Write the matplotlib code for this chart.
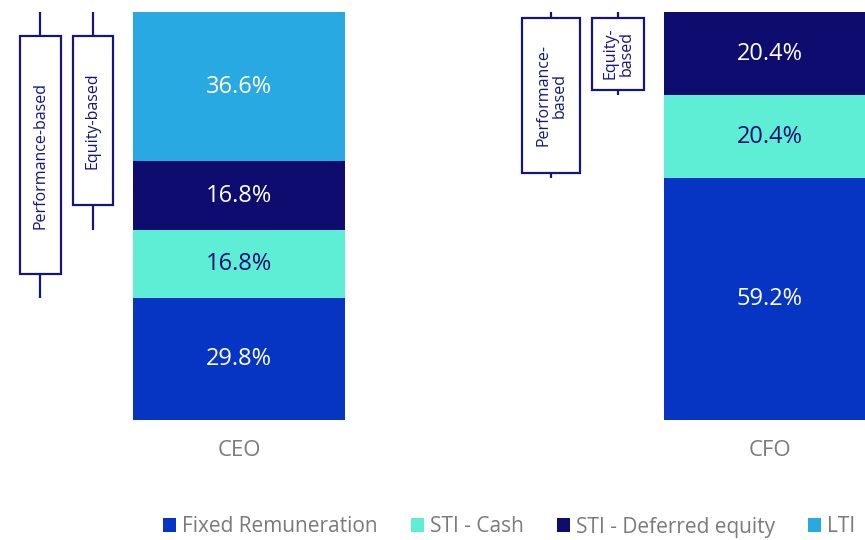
import matplotlib
matplotlib.use("Agg")
import matplotlib.pyplot as plt
from matplotlib.patches import Rectangle, Patch

plt.rcParams['font.family'] = ['Open Sans', 'DejaVu Sans']

categories = ["CEO", "CFO"]
components = ["Fixed Remuneration", "STI - Cash", "STI - Deferred equity", "LTI"]
fixed = [29.8, 59.2]
sti_cash = [16.8, 20.4]
sti_deferred = [16.8, 20.4]
lti = [36.6, 0.0]
series = [fixed, sti_cash, sti_deferred, lti]
colors = ["#0535C2", "#5EEED6", "#0E0C6E", "#29A9E1"]
label_colors = ["white", "#0E0C6E", "white", "white"]

perf_labels = ["Performance-based", "Performance-\nbased"]
equity_labels = ["Equity-based", "Equity-\nbased"]

NAVY = "#16157A"
GRAY = "#7A7A7A"

fig = plt.figure(figsize=(8.65, 5.4), dpi=100)
ax = fig.add_axes([0, 120/540, 1, 408/540])
x = list(range(len(categories)))
width = 0.4
bottom = [0.0] * len(categories)
for vals, col, lc in zip(series, colors, label_colors):
    ax.bar(x, vals, width=width, bottom=bottom, color=col, edgecolor="none")
    for i, v in enumerate(vals):
        if v > 0:
            ax.text(x[i], bottom[i] + v / 2, f"{v:.1f}%", ha="center", va="center",
                    color=lc, fontsize=17)
    bottom = [b + v for b, v in zip(bottom, vals)]

ax.set_xlim(-239/531, (865-239)/531)
ax.set_ylim(0, 100)
ax.axis("off")

# bracket annotations
perf_offsets = [-0.374, -0.412]
perf_widths = [0.077, 0.109]
eq_offsets = [-0.275, -0.286]
eq_widths = [0.075, 0.098]
insets = [6.0, 1.4]
for i in range(len(categories)):
    top = 100.0
    perf_low = fixed[i]
    eq_low = fixed[i] + sti_cash[i]
    for off, w, low, lab in [(perf_offsets[i], perf_widths[i], perf_low, perf_labels[i]),
                             (eq_offsets[i], eq_widths[i], eq_low, equity_labels[i])]:
        cx = x[i] + off
        ax.plot([cx, cx], [low, top], color=NAVY, lw=1.6, zorder=3, solid_capstyle="butt")
        ins = insets[i]
        ax.add_patch(Rectangle((cx - w/2, low + ins), w, (top - low) - 2*ins,
                               facecolor="white", edgecolor=NAVY, lw=1.6, zorder=4))
        ax.text(cx, (low + top)/2, lab, rotation=90, ha="center", va="center",
                color=NAVY, fontsize=11.5, zorder=5, linespacing=1.0, multialignment="center")

# category labels
for i, c in enumerate(categories):
    fig.text((239 + 531*i)/865, 1 - 451/540, c, ha="center", va="center",
             color=GRAY, fontsize=16)

handles = [Patch(facecolor=c, edgecolor="none") for c in colors]
leg = fig.legend(handles, components, loc="center left", bbox_to_anchor=(155/865, 1 - 527/540),
                 ncol=4, frameon=False, fontsize=15, handlelength=0.6, handleheight=0.65,
                 handletextpad=0.3, columnspacing=1.6, borderaxespad=0)
for t in leg.get_texts():
    t.set_color(GRAY)

fig.savefig("out.png", dpi=100)
